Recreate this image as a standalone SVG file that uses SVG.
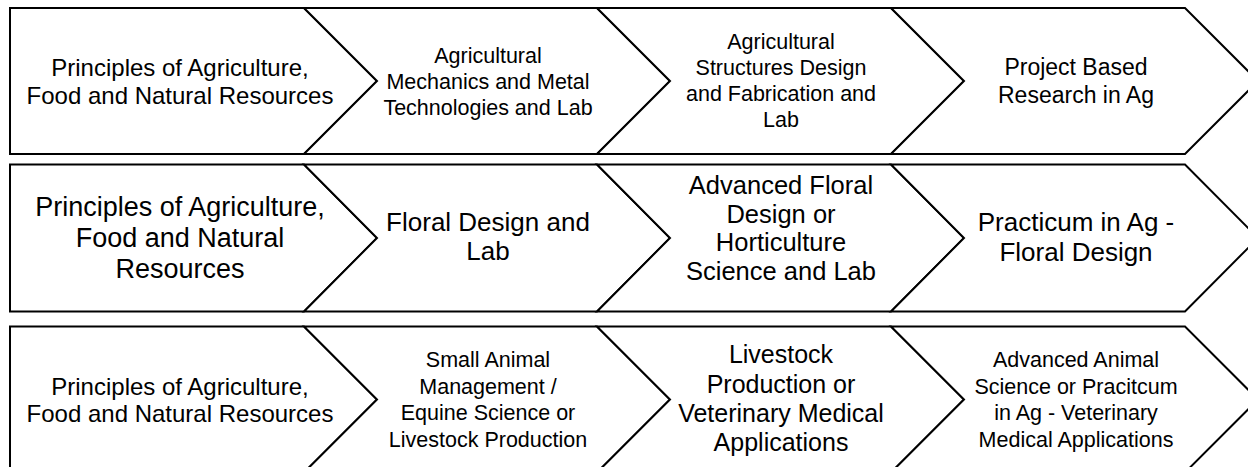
<svg xmlns="http://www.w3.org/2000/svg" width="1248" height="467" viewBox="0 0 1248 467">
<style>
.s{fill:#fff;stroke:#000;stroke-width:2;stroke-linejoin:miter}
text{font-family:"Liberation Sans",Arial,sans-serif;fill:#000;text-anchor:middle}
.f24{font-size:24px}.f21{font-size:21.5px}.f23{font-size:23px}.f27{font-size:27px}.f26{font-size:26px}.f25{font-size:25.5px}
</style>
<rect width="1248" height="467" fill="#fff"/>
<g id="connectors"/>
<g id="r1n1"><polygon class="s" points="10,8 304,8 377,81 304,154 10,154"/>
<text class="f24" x="180"><tspan x="180" y="76">Principles of Agriculture,</tspan><tspan x="180" y="103.5">Food and Natural Resources</tspan></text></g>
<g id="r1n2"><polygon class="s" points="304,8 597,8 670,81 597,154 304,154 377,81"/>
<text class="f21"><tspan x="488" y="63">Agricultural</tspan><tspan x="488" y="89">Mechanics and Metal</tspan><tspan x="488" y="115">Technologies and Lab</tspan></text></g>
<g id="r1n3"><polygon class="s" points="597,8 891,8 964,81 891,154 597,154 670,81"/>
<text class="f21"><tspan x="781" y="49">Agricultural</tspan><tspan x="781" y="75">Structures Design</tspan><tspan x="781" y="101">and Fabrication and</tspan><tspan x="781" y="127">Lab</tspan></text></g>
<g id="r1n4"><polygon class="s" points="891,8 1185,8 1258,81 1185,154 891,154 964,81"/>
<text class="f23"><tspan x="1076" y="75">Project Based</tspan><tspan x="1076" y="103">Research in Ag</tspan></text></g>

<g id="r2n1"><polygon class="s" points="10,164.5 304,164.5 377,238 304,311.5 10,311.5"/>
<text class="f27"><tspan x="180" y="215.5">Principles of Agriculture,</tspan><tspan x="180" y="246.5">Food and Natural</tspan><tspan x="180" y="277.5">Resources</tspan></text></g>
<g id="r2n2"><polygon class="s" points="304,164.5 597,164.5 670,238 597,311.5 304,311.5 377,238"/>
<text class="f26"><tspan x="488" y="231">Floral Design and</tspan><tspan x="488" y="260">Lab</tspan></text></g>
<g id="r2n3"><polygon class="s" points="597,164.5 891,164.5 964,238 891,311.5 597,311.5 670,238"/>
<text class="f25"><tspan x="781" y="194">Advanced Floral</tspan><tspan x="781" y="222.5">Design or</tspan><tspan x="781" y="251">Horticulture</tspan><tspan x="781" y="279.5">Science and Lab</tspan></text></g>
<g id="r2n4"><polygon class="s" points="891,164.5 1185,164.5 1258,238 1185,311.5 891,311.5 964,238"/>
<text class="f26"><tspan x="1076" y="231">Practicum in Ag -</tspan><tspan x="1076" y="261">Floral Design</tspan></text></g>

<g id="r3n1"><polygon class="s" points="10,326.5 304,326.5 377,399.5 304,472.5 10,472.5"/>
<text class="f24"><tspan x="180" y="394.5">Principles of Agriculture,</tspan><tspan x="180" y="422">Food and Natural Resources</tspan></text></g>
<g id="r3n2"><polygon class="s" points="304,326.5 597,326.5 670,399.5 597,472.5 304,472.5 377,399.5"/>
<text class="f21"><tspan x="488" y="367">Small Animal</tspan><tspan x="488" y="393.5">Management /</tspan><tspan x="488" y="420">Equine Science or</tspan><tspan x="488" y="446.5">Livestock Production</tspan></text></g>
<g id="r3n3"><polygon class="s" points="597,326.5 891,326.5 964,399.5 891,472.5 597,472.5 670,399.5"/>
<text style="font-size:25px"><tspan x="781" y="363">Livestock</tspan><tspan x="781" y="392.5">Production or</tspan><tspan x="781" y="422">Veterinary Medical</tspan><tspan x="781" y="451">Applications</tspan></text></g>
<g id="r3n4"><polygon class="s" points="891,326.5 1185,326.5 1258,399.5 1185,472.5 891,472.5 964,399.5"/>
<text class="f21"><tspan x="1076" y="367">Advanced Animal</tspan><tspan x="1076" y="393.5">Science or Pracitcum</tspan><tspan x="1076" y="420">in Ag - Veterinary</tspan><tspan x="1076" y="446.5">Medical Applications</tspan></text></g>
</svg>
